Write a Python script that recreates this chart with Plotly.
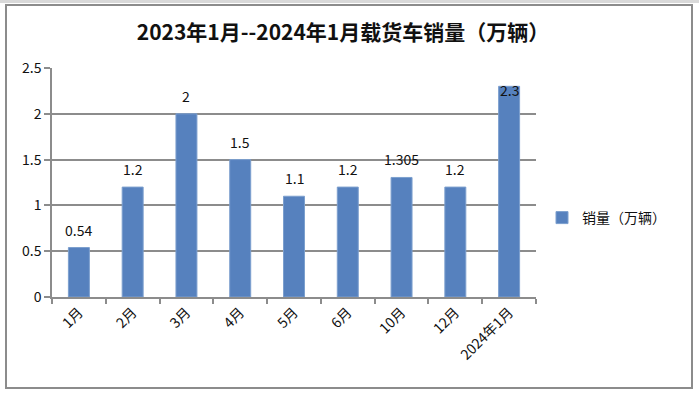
import plotly.graph_objects as go

categories = ["1月", "2月", "3月", "4月", "5月", "6月", "10月", "12月", "2024年1月"]
values = [0.54, 1.2, 2, 1.5, 1.1, 1.2, 1.305, 1.2, 2.3]
labels = ["0.54", "1.2", "2", "1.5", "1.1", "1.2", "1.305", "1.2", "2.3"]
series_name = "销量（万辆）"
title = "2023年1月--2024年1月载货车销量（万辆）"
y_ticks = [0, 0.5, 1, 1.5, 2, 2.5]
y_ticktext = ["0", "0.5", "1", "1.5", "2", "2.5"]

FONT = "Noto Sans CJK SC"
BAR = "#5681BE"

fig = go.Figure()
fig.add_trace(go.Bar(
    x=categories, y=values, name=series_name,
    marker=dict(color=BAR, line=dict(color="#7C9FCE", width=1)),
    width=0.39,
))

# data labels
for i, (c, v, t) in enumerate(zip(categories, values, labels)):
    ys = -4 if i == len(categories) - 1 else 18
    fig.add_annotation(x=c, y=v, text=t, showarrow=False, yshift=ys,
                       font=dict(family=FONT, size=14, color="#111111"))

# outer frame
L, R, T, B = 52, 536, 68, 297
W, H = R - L, B - T
def px(x):
    return (x - L) / W
def py(y):
    return (B - y) / H
fig.add_shape(type="rect", xref="paper", yref="paper",
              x0=px(6), x1=px(692), y0=py(388), y1=py(5),
              line=dict(color="#8C8C8C", width=2), layer="below")
fig.add_shape(type="rect", xref="paper", yref="paper",
              x0=px(0), x1=px(699), y0=py(3), y1=py(0),
              line=dict(width=0), fillcolor="#D9D9D9", layer="below")

fig.update_layout(
    width=699, height=394,
    margin=dict(l=L, r=699 - R, t=T, b=394 - B),
    paper_bgcolor="white", plot_bgcolor="white",
    title=dict(text="<b>" + title + "</b>", x=343 / 699, xanchor="center",
               y=1 - 33 / 394, yanchor="middle",
               font=dict(family=FONT, size=21, color="#111111")),
    showlegend=True,
    legend=dict(x=px(542), y=py(218), xanchor="left", yanchor="middle",
                font=dict(family=FONT, size=14, color="#111111"),
                bgcolor="rgba(0,0,0,0)"),
    xaxis=dict(type="category", showline=True, linecolor="#8C8C8C", linewidth=1.5,
               ticks="outside", ticklen=5, tickcolor="#8C8C8C", tickwidth=1.5,
               tickson="boundaries", tickangle=-45,
               tickfont=dict(family=FONT, size=14, color="#111111"),
               showgrid=False, range=[-0.5, 8.5]),
    yaxis=dict(range=[0, 2.5], tickvals=y_ticks, ticktext=y_ticktext,
               showline=True, linecolor="#8C8C8C", linewidth=1.5,
               ticks="outside", ticklen=6, tickcolor="#8C8C8C", tickwidth=1.5,
               showgrid=True, gridcolor="#8C8C8C", gridwidth=1.5,
               zeroline=False,
               tickfont=dict(family=FONT, size=14, color="#111111")),
)

fig.write_html("out.html", config={"displayModeBar": False},
               post_script="document.body.style.margin='0';document.body.style.overflow='hidden';")
